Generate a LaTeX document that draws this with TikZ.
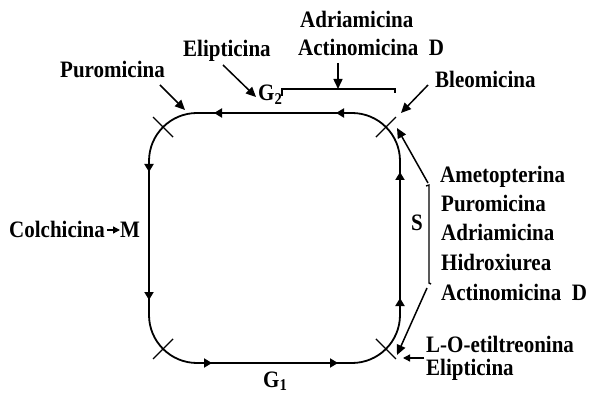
\documentclass[tikz,border=0pt]{standalone}
\usepackage{fontspec}
\setmainfont{Liberation Serif}
\usetikzlibrary{arrows.meta}
\newcommand{\tallt}[1]{\scalebox{1}[1.12]{#1}}
\begin{document}
\begin{tikzpicture}[x=1pt,y=-1pt,
  lbl/.style={anchor=base west,inner sep=0pt,font=\fontsize{21}{24}\selectfont\bfseries},
  cyc/.style={line width=1.8pt},
  tip/.style={line width=1.8pt,-{Triangle[length=8pt,width=9pt]}},
  ptr/.style={line width=1.5pt,-{Triangle[length=10pt,width=9pt]}},
  sptr/.style={line width=1.3pt,-{Triangle[length=7pt,width=7pt]}},
  tick/.style={line width=1.4pt}]
\useasboundingbox (0,0) rectangle (594,395);
% cycle
\draw[cyc,rounded corners=48pt] (149,113) rectangle (400,363);
% direction marks
\draw[tip] (228,113) -- (214,113);
\draw[tip] (350,113) -- (336,113);
\draw[tip] (149,158) -- (149,172);
\draw[tip] (149,286) -- (149,300);
\draw[tip] (198,363) -- (212,363);
\draw[tip] (324,363) -- (338,363);
\draw[tip] (400,186) -- (400,172);
\draw[tip] (400,312) -- (400,298);
% checkpoints (crosses)
\coordinate (xtl) at (163.1,127.1);
\coordinate (xtr) at (385.9,127.1);
\coordinate (xbl) at (163.1,348.9);
\coordinate (xbr) at (385.9,348.9);
\draw[tick] ([shift={(-10,-10)}]xtl) -- ([shift={(10,10)}]xtl);
\draw[tick] ([shift={(10,-10)}]xtr) -- ([shift={(-10,10)}]xtr);
\draw[tick] ([shift={(-10,10)}]xbl) -- ([shift={(10,-10)}]xbl);
\draw[tick] ([shift={(10,10)}]xbr) -- ([shift={(-10,-10)}]xbr);
% labels
\node[lbl] (puro) at (60,78) {\tallt{Puromicina}};
\node[lbl] (elip) at (183,57) {\tallt{Elipticina}};
\node[lbl] (adri) at (300,28) {\tallt{Adriamicina}};
\node[lbl] (actd) at (298,56) {\tallt{Actinomicina\hspace{0.5em}D}};
\node[lbl] (bleo) at (435,88) {\tallt{Bleomicina}};
\node[lbl] (gtwo) at (258,101) {\tallt{G\textsubscript{2}}};
\node[lbl] (amet) at (440,183) {\tallt{Ametopterina}};
\node[lbl] (puro2) at (441,212) {\tallt{Puromicina}};
\node[lbl] (adri2) at (441,241) {\tallt{Adriamicina}};
\node[lbl] (hidr) at (441,270) {\tallt{Hidroxiurea}};
\node[lbl] (actd2) at (441,300) {\tallt{Actinomicina\hspace{0.5em}D}};
\node[lbl] (sph) at (411,231) {\tallt{S}};
\node[lbl] (loet) at (426,352) {\tallt{L-O-etiltreonina}};
\node[lbl] (elip2) at (426,375) {\tallt{Elipticina}};
\node[lbl] (colc) at (9,238) {\tallt{Colchicina}};
\node[lbl] (mph) at (120,238) {\tallt{M}};
\node[lbl] (gone) at (263,387) {\tallt{G\textsubscript{1}}};
% pointers
\coordinate (pa0) at (160,85);  \coordinate (pa1) at (185,110);
\draw[ptr] (pa0) -- (pa1);
\coordinate (ea0) at (223,65);  \coordinate (ea1) at (256,97);
\draw[ptr] (ea0) -- (ea1);
\coordinate (da0) at (338,63);  \coordinate (da1) at (338,89);
\draw[ptr] (da0) -- (da1);
\draw[tick] (282,96) -- (282,89) -- (395,89) -- (395,93);
\coordinate (ba0) at (428,85);  \coordinate (ba1) at (401,113);
\draw[ptr] (ba0) -- (ba1);
\draw[tick] (426,186) -- (429,185) -- (429,283) -- (431,284);
\coordinate (sa0) at (428,183); \coordinate (sa1) at (397,128);
\draw[ptr] (sa0) -- (sa1);
\coordinate (sb0) at (427,288); \coordinate (sb1) at (397,355);
\draw[ptr] (sb0) -- (sb1);
\coordinate (la0) at (424,358); \coordinate (la1) at (403,358);
\draw[sptr] (la0) -- (la1);
\draw[sptr] (colc.base east) ++(2,-8) coordinate (ca0) -- (mph.base west |- ca0);
\end{tikzpicture}
\end{document}
